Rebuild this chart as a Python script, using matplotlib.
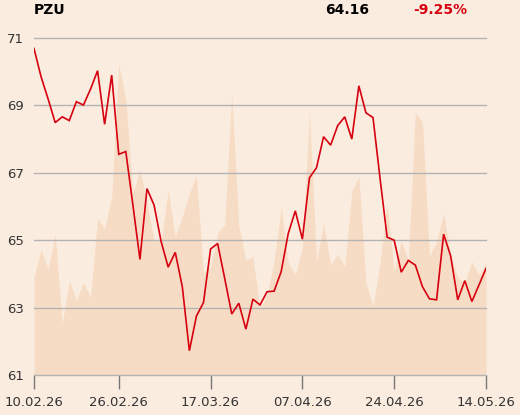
import matplotlib
matplotlib.use("Agg")
import matplotlib.pyplot as plt
import pandas as pd

# ---- data ----
holidays = ["2026-04-03", "2026-04-06", "2026-05-01"]
dates = [d for d in pd.bdate_range("2026-02-10", "2026-05-14") if d.strftime("%Y-%m-%d") not in holidays]

price = [70.69, 69.85, 69.19, 68.49, 68.66, 68.55, 69.11, 69.01, 69.48, 70.03,
         68.44, 69.90, 67.55, 67.63, 66.05, 64.43, 66.53, 66.04, 64.96, 64.20,
         64.64, 63.62, 61.72, 62.75, 63.15, 64.74, 64.90, 63.87, 62.81, 63.13,
         62.36, 63.25, 63.08, 63.47, 63.49, 64.07, 65.20, 65.87, 65.03, 66.85,
         67.15, 68.07, 67.82, 68.40, 68.66, 68.00, 69.58, 68.78, 68.64, 66.83,
         65.09, 65.00, 64.05, 64.40, 64.26, 63.62, 63.26, 63.23, 65.18, 64.53,
         63.23, 63.80, 63.18, 63.67, 64.16]

shade_top = [63.92, 64.71, 64.14, 65.17, 62.53, 63.80, 63.20, 63.75, 63.31, 65.65,
             65.35, 66.29, 70.23, 69.16, 66.39, 67.08, 66.10, 65.01, 64.96, 66.49,
             65.11, 65.70, 66.39, 66.93, 64.02, 64.21, 65.20, 65.47, 69.37, 65.43,
             64.41, 64.51, 62.96, 63.40, 64.40, 65.97, 64.33, 63.97, 64.78, 68.82,
             64.38, 65.50, 64.26, 64.59, 64.21, 66.45, 66.90, 63.75, 63.03, 64.35,
             66.09, 64.10, 64.98, 64.41, 68.78, 68.50, 64.53, 64.95, 65.80, 64.55,
             63.90, 63.75, 64.36, 63.97, 64.32]

tick_dates = ["10.02.26", "26.02.26", "17.03.26", "07.04.26", "24.04.26", "14.05.26"]
y_ticks = [61, 63, 65, 67, 69, 71]
title = "PZU"
last_value = "64.16"
change = "-9.25%"

# ---- style ----
bg = "#fbece0"
fill_c = "#f7dcc5"
line_c = "#d7000f"
grid_c = "#b3b3b3"
text_c = "#333333"

fig = plt.figure(figsize=(5.2, 4.15), dpi=100, facecolor=bg)
ax = fig.add_axes([34/520, 40/415, 452/520, 337/415])
ax.set_facecolor(bg)

x = list(range(len(dates)))
ax.fill_between(x, 61, shade_top, color=fill_c, linewidth=0, zorder=1)
for yv in y_ticks:
    ax.axhline(yv, color=grid_c, linewidth=1.0, zorder=2, clip_on=False)
ax.plot(x, price, color=line_c, linewidth=1.2, zorder=3, solid_joinstyle="miter")

ax.set_xlim(0, len(dates) - 1)
ax.set_ylim(61, 71)

date_str = [d.strftime("%d.%m.%y") for d in dates]
tick_pos = [date_str.index(t) for t in tick_dates]
ax.set_xticks(tick_pos)
ax.set_xticklabels(tick_dates)
ax.set_yticks(y_ticks)
ax.set_yticklabels([str(v) for v in y_ticks])

for s in ax.spines.values():
    s.set_visible(False)
ax.tick_params(axis="x", length=10, width=1, color="#777777", direction="out",
               pad=5, labelsize=9.5, labelcolor=text_c)
ax.tick_params(axis="y", length=0, pad=7, labelsize=9.5, labelcolor=text_c)

fig.text(34/520, 1 - 10/415, title, fontsize=10, fontweight="bold", color="black",
         ha="left", va="center")
fig.text(369/520, 1 - 10/415, last_value, fontsize=10, fontweight="bold", color="black",
         ha="right", va="center")
fig.text(467/520, 1 - 10/415, change, fontsize=10, fontweight="bold", color="#d7000f",
         ha="right", va="center")

fig.savefig("out.png", dpi=100, facecolor=bg)
